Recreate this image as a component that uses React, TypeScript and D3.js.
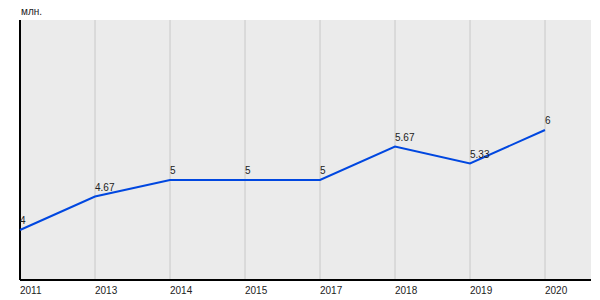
import React from "react";
import * as d3 from "d3";

const years = ["2011", "2013", "2014", "2015", "2017", "2018", "2019", "2020"];
const values = [4, 4.67, 5, 5, 5, 5.67, 5.33, 6];
const labels = ["4", "4.67", "5", "5", "5", "5.67", "5.33", "6"];
const unit = "млн.";

export default function App() {
  const W = 600, H = 300;
  const left = 20, right = 591, top = 20, bottom = 280;
  const x = d3.scalePoint<string>().domain(years).range([left, 545]);
  const y = d3.scaleLinear().domain([3, 8.2]).range([bottom, top]);
  const line = d3.line<number>().x((_, i) => x(years[i])!).y(d => y(d));
  const font = "Arial, 'Liberation Sans', sans-serif";
  return (
    <svg width={W} height={H} style={{ position: "absolute", left: 0, top: 0 }} fontFamily={font}>
      <rect x={0} y={0} width={W} height={H} fill="#fff" />
      <rect x={left} y={top} width={right - left} height={bottom - top} fill="#ebebeb" />
      {years.map(yr => (
        <line key={yr} x1={x(yr)} x2={x(yr)} y1={top} y2={bottom} stroke="#c8c8c8" strokeWidth={1} />
      ))}
      <line x1={left} x2={left} y1={top} y2={bottom} stroke="#000" strokeWidth={2} />
      <line x1={left} x2={right} y1={bottom} y2={bottom} stroke="#000" strokeWidth={2} />
      <path d={line(values)!} fill="none" stroke="#0047e0" strokeWidth={2} />
      {values.map((v, i) => (
        <text key={i} x={x(years[i])!} y={y(v) - 6} fontSize={10} fill="#222">{labels[i]}</text>
      ))}
      {years.map(yr => (
        <text key={yr} x={x(yr)!} y={294} fontSize={10} fill="#222">{yr}</text>
      ))}
      <text x={21} y={15} fontSize={10} fill="#222">{unit}</text>
    </svg>
  );
}
